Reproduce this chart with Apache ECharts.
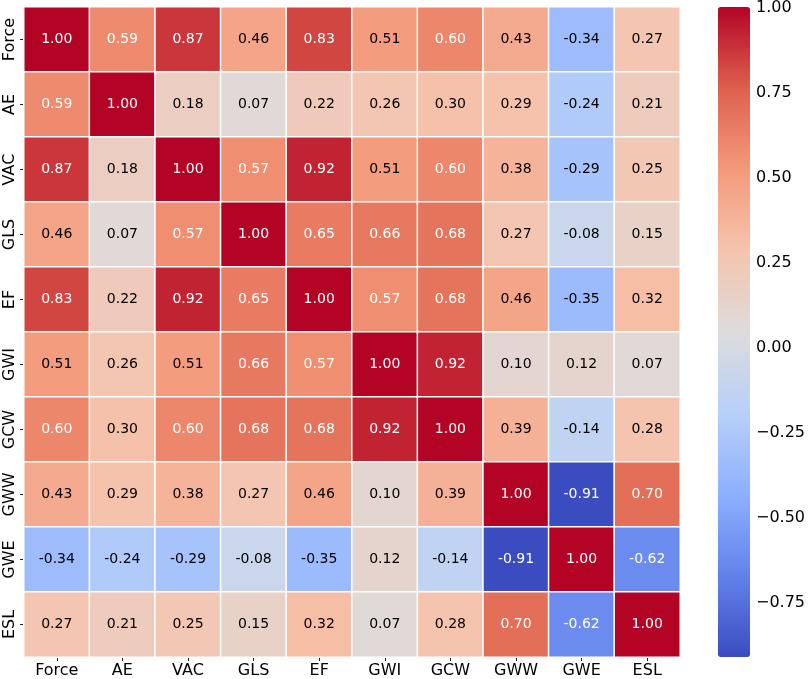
<!DOCTYPE html>
<html>
<head>
<meta charset="utf-8">
<script src="https://cdn.jsdelivr.net/npm/echarts@6/dist/echarts.min.js"></script>
<style>
html,body{margin:0;padding:0;background:#fff;}
#main{width:810px;height:679px;}
</style>
</head>
<body>
<div id="main"></div>
<script>
const labels = ['Force','AE','VAC','GLS','EF','GWI','GCW','GWW','GWE','ESL'];
const rowForce = [1.00, 0.59, 0.87, 0.46, 0.83, 0.51, 0.60, 0.43, -0.34, 0.27];
const rowAE    = [0.59, 1.00, 0.18, 0.07, 0.22, 0.26, 0.30, 0.29, -0.24, 0.21];
const rowVAC   = [0.87, 0.18, 1.00, 0.57, 0.92, 0.51, 0.60, 0.38, -0.29, 0.25];
const rowGLS   = [0.46, 0.07, 0.57, 1.00, 0.65, 0.66, 0.68, 0.27, -0.08, 0.15];
const rowEF    = [0.83, 0.22, 0.92, 0.65, 1.00, 0.57, 0.68, 0.46, -0.35, 0.32];
const rowGWI   = [0.51, 0.26, 0.51, 0.66, 0.57, 1.00, 0.92, 0.10, 0.12, 0.07];
const rowGCW   = [0.60, 0.30, 0.60, 0.68, 0.68, 0.92, 1.00, 0.39, -0.14, 0.28];
const rowGWW   = [0.43, 0.29, 0.38, 0.27, 0.46, 0.10, 0.39, 1.00, -0.91, 0.70];
const rowGWE   = [-0.34, -0.24, -0.29, -0.08, -0.35, 0.12, -0.14, -0.91, 1.00, -0.62];
const rowESL   = [0.27, 0.21, 0.25, 0.15, 0.32, 0.07, 0.28, 0.70, -0.62, 1.00];
const colorbarTicks = [-0.75, -0.50, -0.25, 0.00, 0.25, 0.50, 0.75, 1.00];
const vMin = -0.91, vMax = 1.00;

const rows = [rowForce,rowAE,rowVAC,rowGLS,rowEF,rowGWI,rowGCW,rowGWW,rowGWE,rowESL];

// coolwarm anchors
const cw = [[59,76,192],[98,130,234],[141,176,254],[184,208,249],[221,220,220],[245,196,173],[244,154,123],[222,96,77],[180,4,38]];
const cwHex = cw.map(c => '#' + c.map(v => v.toString(16).padStart(2,'0')).join(''));
function cmap(v){
  let t = (v - vMin)/(vMax - vMin); t = Math.max(0, Math.min(1, t));
  const p = t*(cw.length-1); const i = Math.min(cw.length-2, Math.floor(p)); const f = p - i;
  return cw[i].map((c,k) => c + (cw[i+1][k]-c)*f);
}
function textColor(v){
  const rgb = cmap(v).map(c => { c/=255; return c <= 0.03928 ? c/12.92 : Math.pow((c+0.055)/1.055, 2.4); });
  const l = 0.2126*rgb[0] + 0.7152*rgb[1] + 0.0722*rgb[2];
  return l > 0.408 ? '#000' : '#fff';
}

const data = [];
rows.forEach((r, yi) => r.forEach((v, xi) => {
  data.push({ value: [xi, yi, v], label: { color: textColor(v) } });
}));

const font = 'DejaVu Sans';
const chart = echarts.init(document.getElementById('main'));
chart.setOption({
  animation: false,
  backgroundColor: '#fff',
  textStyle: { fontFamily: font },
  grid: [
    { left: 24, top: 7, width: 656, height: 650 },
    { left: 718, top: 7, width: 32, height: 650 }
  ],
  xAxis: [
    { type: 'category', data: labels, gridIndex: 0, position: 'bottom',
      axisLine: { show: false },
      axisTick: { show: true, alignWithLabel: true, length: 4, lineStyle: { color: '#222', width: 1 } },
      axisLabel: { fontSize: 16, color: '#000', fontFamily: font, margin: 6, interval: 0 },
      splitLine: { show: false } },
    { type: 'value', gridIndex: 1, show: false, min: 0, max: 1 }
  ],
  yAxis: [
    { type: 'category', data: labels, gridIndex: 0, inverse: true,
      axisLine: { show: false },
      axisTick: { show: true, alignWithLabel: true, length: 4, lineStyle: { color: '#222', width: 1 } },
      axisLabel: { fontSize: 16, color: '#000', fontFamily: font, rotate: 90, margin: 6, interval: 0 },
      splitLine: { show: false } },
    { type: 'value', gridIndex: 1, position: 'right', min: vMin, max: vMax,
      axisLine: { show: false },
      splitLine: { show: false },
      axisTick: { show: true, length: 4, inside: false, customValues: colorbarTicks, lineStyle: { color: '#222', width: 1 } },
      axisLabel: { fontSize: 16, color: '#000', fontFamily: font, margin: 6, customValues: colorbarTicks,
        formatter: v => v.toFixed(2).replace('-', '\u2212') } }
  ],
  visualMap: {
    type: 'continuous', min: vMin, max: vMax, calculable: false,
    seriesIndex: 0,
    orient: 'vertical', left: 718, top: 7, itemWidth: 32, itemHeight: 650,
    padding: 0, text: null, showLabel: false,
    inRange: { color: cwHex }
  },
  series: [{
    type: 'heatmap', xAxisIndex: 0, yAxisIndex: 0, data: data,
    itemStyle: { borderColor: '#fff', borderWidth: 1.5 },
    label: { show: true, fontSize: 14, fontFamily: font, formatter: p => p.value[2].toFixed(2) },
    emphasis: { disabled: true }
  }]
});
</script>
</body>
</html>
